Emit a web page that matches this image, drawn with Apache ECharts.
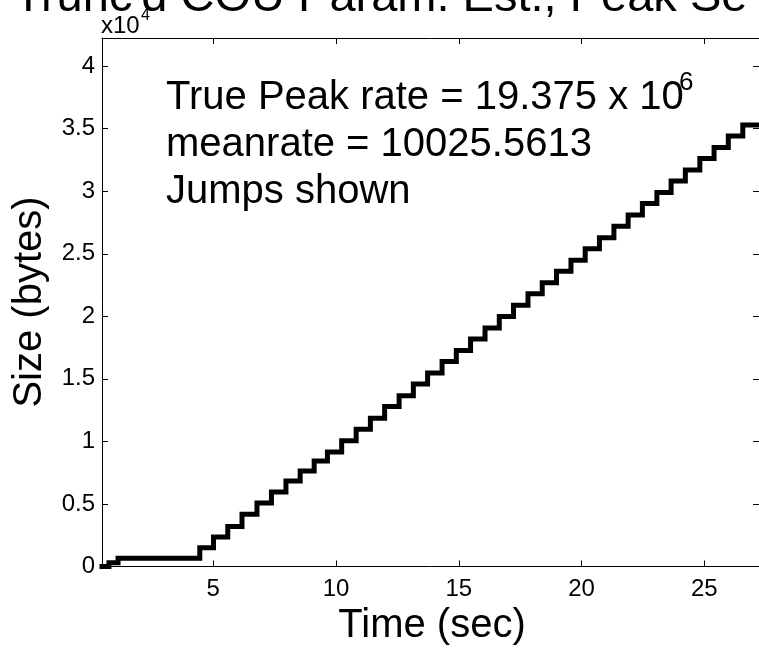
<!DOCTYPE html>
<html><head><meta charset="utf-8">
<script src="https://cdn.jsdelivr.net/npm/echarts@6/dist/echarts.min.js"></script>
<style>html,body{margin:0;padding:0;background:#fff}#c{width:759px;height:650px}</style>
</head><body><div id="c"></div>
<script>
// Step curve: each level holds from its jump time until the next jump time
const jumpTimes = [0.467, 0.75, 1.12, 4.45, 5.01, 5.59, 6.17, 6.78, 7.37, 7.96, 8.54, 9.11, 9.65,
  10.23, 10.82, 11.40, 11.98, 12.57, 13.15, 13.73, 14.32, 14.90, 15.48,
  16.07, 16.65, 17.23, 17.82, 18.40, 18.98, 19.57, 20.15, 20.73, 21.32,
  21.90, 22.48, 23.07, 23.65, 24.23, 24.82, 25.40, 25.98, 26.57, 27.23];
const sizeLevels = [0, 300, 650, 1500, 2350, 3200, 4170, 5070, 5950, 6840, 7640, 8440, 9160,
  10060, 10980, 11860, 12790, 13660, 14580, 15460, 16390, 17270, 18190,
  19070, 19990, 20880, 21800, 22680, 23600, 24480, 25410, 26290, 27210,
  28100, 29010, 29900, 30820, 31700, 32620, 33500, 34420, 35300, 35300];
const xTickValues = [5, 10, 15, 20, 25];
const xTickLabels = ['5', '10', '15', '20', '25'];
const yTickValues = [0, 5000, 10000, 15000, 20000, 25000, 30000, 35000, 40000];
const yTickLabels = ['0', '0.5', '1', '1.5', '2', '2.5', '3', '3.5', '4'];
const titleText = "Trunc'd COU Param. Est., Peak Se";
const annotationLines = ['True Peak rate = 19.375 x 10', 'meanrate = 10025.5613', 'Jumps shown'];
const annotationSup = '6';
const xName = 'Time (sec)';
const yName = 'Size (bytes)';

const FF = '"Liberation Sans", Arial, Helvetica, sans-serif';
const X_MIN = 0.467, X_MAX = 27.23, Y_MIN = 0, Y_MAX = 42250;

const chart = echarts.init(document.getElementById('c'), null, {renderer: 'canvas'});
const lineData = jumpTimes.map((t, i) => [t, sizeLevels[i]]);

function txt(x, y, text, size, align, rot) {
  return {
    type: 'text', x: x, y: y, rotation: rot || 0, silent: true,
    style: {x: 0, y: 0, text: text, fill: '#000', font: size + 'px ' + FF,
      textAlign: align || 'left', textVerticalAlign: 'middle'}
  };
}

const axisCommon = {
  axisLine: {show: true, onZero: false, lineStyle: {color: '#000', width: 1}},
  splitLine: {show: false}
};

chart.setOption({
  animation: false,
  backgroundColor: '#fff',
  grid: {left: 102, top: 38, width: 660, height: 528.5, containLabel: false},
  xAxis: [
    Object.assign({
      type: 'value', position: 'bottom', min: X_MIN, max: X_MAX,
      axisTick: {show: true, inside: true, length: 6, customValues: xTickValues, lineStyle: {color: '#000', width: 1}},
      axisLabel: {show: true, margin: 11, customValues: xTickValues, color: '#000', fontSize: 24, fontFamily: FF,
        formatter: v => { const i = xTickValues.indexOf(v); return i >= 0 ? xTickLabels[i] : ''; }}
    }, axisCommon),
    Object.assign({
      type: 'value', position: 'top', min: X_MIN, max: X_MAX,
      axisTick: {show: true, inside: true, length: 6, customValues: xTickValues, lineStyle: {color: '#000', width: 1}},
      axisLabel: {show: false}
    }, axisCommon)
  ],
  yAxis: [
    Object.assign({
      type: 'value', position: 'left', min: Y_MIN, max: Y_MAX,
      axisTick: {show: true, inside: true, length: 6, customValues: yTickValues, lineStyle: {color: '#000', width: 1}},
      axisLabel: {show: true, margin: 7, customValues: yTickValues, color: '#000', fontSize: 24, fontFamily: FF,
        formatter: v => { const i = yTickValues.indexOf(v); return i >= 0 ? yTickLabels[i] : ''; }}
    }, axisCommon),
    Object.assign({
      type: 'value', position: 'right', min: Y_MIN, max: Y_MAX,
      axisTick: {show: true, inside: true, length: 6, customValues: yTickValues, lineStyle: {color: '#000', width: 1}},
      axisLabel: {show: false}
    }, axisCommon)
  ],
  series: [{
    type: 'line', xAxisIndex: 0, yAxisIndex: 0, data: lineData, step: 'end',
    showSymbol: false, symbol: 'none', clip: true,
    lineStyle: {color: '#000', width: 5, join: 'miter', cap: 'square'}
  }],
  graphic: [
    txt(14, 14.5 - 0.3465 * 47, titleText, 47, 'left'),
    txt(101, 35 - 0.3465 * 24, 'x10', 24, 'left'),
    txt(141, 21 - 0.3465 * 16, '4', 16, 'left'),
    txt(166, 111.7 - 0.3465 * 40, annotationLines[0], 40, 'left'),
    txt(679, 92 - 0.3465 * 26, annotationSup, 26, 'left'),
    txt(166, 158.5 - 0.3465 * 40, annotationLines[1], 40, 'left'),
    txt(166, 205.5 - 0.3465 * 40, annotationLines[2], 40, 'left'),
    txt(432, 640 - 0.3465 * 40, xName, 40, 'center'),
    txt(44 - 0.3465 * 40, 302, yName, 40, 'center', Math.PI / 2)
  ]
});
</script></body></html>
